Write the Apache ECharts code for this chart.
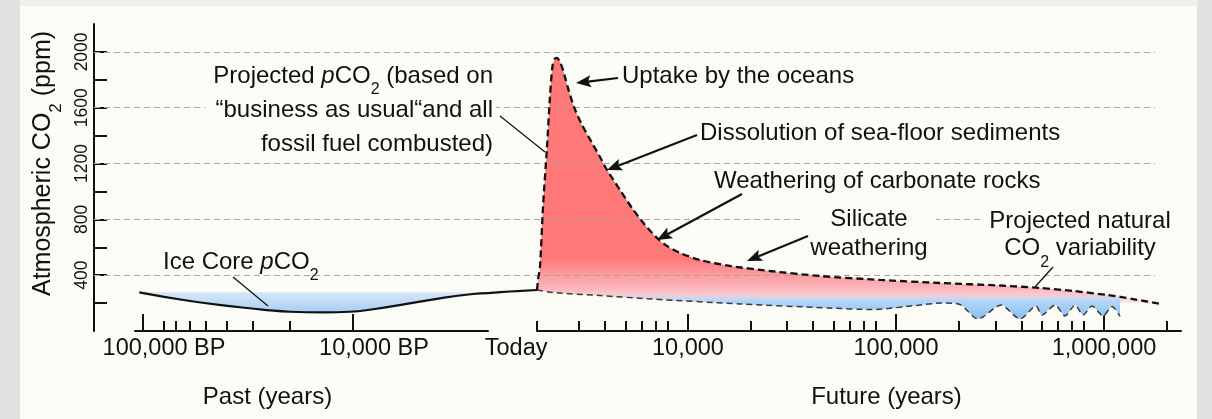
<!DOCTYPE html>
<html>
<head>
<meta charset="utf-8">
<script src="https://cdn.jsdelivr.net/npm/echarts@6.0.0/dist/echarts.min.js"></script>
<style>
html,body{margin:0;padding:0;background:#e1e1e1;}
#chart{width:1212px;height:419px;}
</style>
</head>
<body>
<div id="chart"></div>
<script>
// ---------------- data ----------------
const yTickValues = [200, 400, 600, 800, 1000, 1200, 1400, 1600, 1800, 2000];
const yLabelValues = [400, 800, 1200, 1600, 2000];
const gridLineValues = [400, 800, 1200, 1600, 2000];

const pastMajorTicks = [100000, 10000];
const pastMajorLabels = ['100,000 BP', '10,000 BP'];
const pastMinorTicks = [80000, 70000, 60000, 50000, 40000, 30000, 20000];

const futureLabelValues = [1882, 10000, 100000, 1000000];
const futureLabels = ['Today', '10,000', '100,000', '1,000,000'];
const futureMajorTicks = [10000, 100000, 1000000];
const futureMinorTicks = [1882, 3000, 4000, 5000, 6000, 7000, 8000,
  20000, 30000, 40000, 50000, 60000, 70000, 80000,
  200000, 300000, 400000, 500000, 600000, 700000, 800000, 2000000];

// Ice core pCO2 (years before present, ppm)
const iceCoreYearsBP = [104130, 59720, 34520, 25760, 19960, 13900, 10330, 8030, 5550, 3853, 2683, 2276, 1788, 1330];
const iceCoreCO2     = [277, 215, 170, 150, 138, 134, 138, 156, 194, 234, 265, 272, 283, 294];

// Projected pCO2 (years from now, ppm) and the lower edge of its red fill
const projectedYears = [1880, 1901, 1943, 2009, 2099, 2170, 2232, 2294, 2345, 2425, 2506, 2649, 2830,
  3093, 3455, 3776, 4080, 4711, 5379, 6213, 7096, 7925, 9152, 11420, 15920, 24790, 43120, 83770,
  162800, 316200, 492500, 709600, 1033700, 1378500, 1858700];
const projectedCO2 = [294, 366, 459, 889, 1312, 1677, 1900, 1953, 1957, 1928, 1871, 1742, 1606,
  1477, 1348, 1247, 1154, 1011, 882, 760, 667, 609, 559, 509, 466, 430, 394, 366,
  344, 326, 308, 287, 258, 229, 194];
const projectedFloorCO2 = [294, 290, 288, 286, 282, 280, 277, 275, 274, 272, 271, 269, 266,
  261, 257, 254, 251, 244, 238, 232, 227, 222, 215, 208, 197, 184, 168, 158,
  201, 204, 204, 204, 204, 202, 194];

// Projected natural CO2 variability (years from now, ppm)
const naturalYears = [1880, 2244, 3776, 6713, 17780, 47110, 76670, 124800, 166400, 203100, 247900, 319700,
  394600, 471100, 503300, 581400, 649400, 725400, 792600, 875700, 989000, 1093000, 1194000];
const naturalCO2 = [294, 276, 254, 229, 194, 165, 154, 183, 201, 190, 86, 186,
  86, 179, 115, 186, 108, 186, 115, 179, 108, 176, 104];

const fillCeilingCO2 = 277;

// ---------------- layout / style ----------------
const FONT = '"Liberation Sans", Arial, Helvetica, sans-serif';
const INK = '#111111';
const PANEL = '#fcfcf6';
const pastMin = 2276, pastMax = 109150, bridgeMin = 1330, futureMin = 1880, futureMax = 2344000;

// rows are [ppm, years]; encode maps years to x and ppm to y (so stacking happens on ppm)
const rows = (years, ppm) => years.map((t, i) => [ppm[i], t]);
const ENC = {x: 1, y: 0};
function nearestLabel(v, vals) {
  let best = 0, bd = Infinity;
  vals.forEach((x, i) => { const d = Math.abs(Math.log(v / x)); if (d < bd) { bd = d; best = i; } });
  return best;
}

const tickStyle = {color: INK, width: 2};

const chart = echarts.init(document.getElementById('chart'), null, {renderer: 'canvas'});

const common = {type: 'line', symbol: 'none', showSymbol: false, silent: true, animation: false,
  emphasis: {disabled: true}, clip: false, encode: ENC};

const icePastIdx = iceCoreYearsBP.map((t, i) => i).filter(i => iceCoreYearsBP[i] >= pastMin);
const iceBridgeIdx = iceCoreYearsBP.map((t, i) => i).filter(i => iceCoreYearsBP[i] <= pastMin);
const pick = (arr, idx) => idx.map(i => arr[i]);

const option = {
  animation: false,
  backgroundColor: '#e1e1e1',
  textStyle: {fontFamily: FONT},
  grid: [
    {left: 94, top: 24, width: 1061, height: 307},
    {left: 135, top: 24, width: 353, height: 307},
    {left: 537, top: 24, width: 644, height: 307},
    {left: 488, top: 24, width: 49, height: 307}
  ],
  xAxis: [
    {gridIndex: 0, type: 'value', min: 0, max: 1, show: false},
    {gridIndex: 1, type: 'log', min: pastMin, max: pastMax, inverse: true, position: 'bottom',
      axisLine: {show: true, lineStyle: {color: INK, width: 2}},
      axisTick: {show: true, inside: true, length: 17, lineStyle: tickStyle, customValues: pastMajorTicks},
      axisLabel: {show: true, customValues: pastMajorTicks, margin: 6, color: INK, fontSize: 23.5, fontFamily: FONT,
        formatter: v => '{p|' + pastMajorLabels[nearestLabel(v, pastMajorTicks)] + '}',
        rich: {p: {fontSize: 23.5, fontFamily: FONT, color: INK, padding: [0, 0, 0, 42]}}},
      splitLine: {show: false},
      name: 'Past (years)', nameLocation: 'middle', nameGap: 54,
      nameTextStyle: {color: INK, fontSize: 24, fontFamily: FONT, padding: [0, 88, 0, 0]}},
    {gridIndex: 1, type: 'log', min: pastMin, max: pastMax, inverse: true, position: 'bottom',
      axisLine: {show: false},
      axisTick: {show: true, inside: true, length: 10, lineStyle: tickStyle, customValues: pastMinorTicks},
      axisLabel: {show: false}, splitLine: {show: false}},
    {gridIndex: 2, type: 'log', min: futureMin, max: futureMax, position: 'bottom',
      axisLine: {show: true, lineStyle: {color: INK, width: 2}},
      axisTick: {show: true, inside: true, length: 17, lineStyle: tickStyle, customValues: futureMajorTicks},
      axisLabel: {show: true, customValues: futureLabelValues, margin: 6, color: INK, fontSize: 23.5, fontFamily: FONT,
        formatter: v => { const i = nearestLabel(v, futureLabelValues); return i === 0 ? '{t|' + futureLabels[0] + '}' : futureLabels[i]; },
        rich: {t: {fontSize: 23.5, fontFamily: FONT, color: INK, padding: [0, 42, 0, 0]}}},
      splitLine: {show: false},
      name: 'Future (years)', nameLocation: 'middle', nameGap: 54,
      nameTextStyle: {color: INK, fontSize: 24, fontFamily: FONT, padding: [0, 0, 0, 55]}},
    {gridIndex: 2, type: 'log', min: futureMin, max: futureMax, position: 'bottom',
      axisLine: {show: false},
      axisTick: {show: true, inside: true, length: 10, lineStyle: tickStyle, customValues: futureMinorTicks},
      axisLabel: {show: false}, splitLine: {show: false}},
    {gridIndex: 3, type: 'log', min: bridgeMin, max: pastMin, inverse: true, show: false}
  ],
  yAxis: [
    {gridIndex: 0, type: 'value', min: 0, max: 2200, position: 'left',
      axisLine: {show: true, lineStyle: {color: INK, width: 2}},
      axisTick: {show: true, inside: true, length: 13, lineStyle: tickStyle, customValues: yTickValues},
      axisLabel: {show: true, customValues: yLabelValues, rotate: 90, margin: 3, color: INK, fontSize: 17.5, fontFamily: FONT,
        formatter: v => String(v)},
      splitLine: {show: false},
      name: 'Atmospheric CO{s|2} (ppm)', nameLocation: 'middle', nameRotate: 90, nameGap: 32,
      nameTextStyle: {color: INK, fontSize: 25, fontFamily: FONT, lineHeight: 29, padding: [0, 0, 0, 28],
        rich: {s: {fontSize: 17, fontFamily: FONT, color: INK, padding: [26, 0, 0, 0], lineHeight: 29, verticalAlign: 'middle'}}}},
    {gridIndex: 1, type: 'value', min: 0, max: 2200, show: false},
    {gridIndex: 2, type: 'value', min: 0, max: 2200, show: false},
    {gridIndex: 3, type: 'value', min: 0, max: 2200, show: false}
  ],
  series: [
    Object.assign({}, common, {id: 'gridlines', xAxisIndex: 0, yAxisIndex: 0, data: [], z: 1, encode: undefined,
      markLine: {silent: true, animation: false, symbol: ['none', 'none'], label: {show: false},
        lineStyle: {color: '#a6a6a6', width: 1.2, type: [6, 4]},
        emphasis: {disabled: true},
        data: gridLineValues.map(v => ({yAxis: v}))}}),
    Object.assign({}, common, {id: 'iceBase', xAxisIndex: 1, yAxisIndex: 1, stack: 'ice', smooth: 0.5,
      lineStyle: {width: 0, opacity: 0}, data: rows(pick(iceCoreYearsBP, icePastIdx), pick(iceCoreCO2, icePastIdx)), z: 2}),
    Object.assign({}, common, {id: 'iceBand', xAxisIndex: 1, yAxisIndex: 1, stack: 'ice', smooth: 0.5,
      lineStyle: {width: 0, opacity: 0}, areaStyle: {color: '#c4def7', opacity: 1},
      data: rows(pick(iceCoreYearsBP, icePastIdx), pick(iceCoreCO2, icePastIdx).map(v => Math.max(0, fillCeilingCO2 - v))), z: 2}),
    Object.assign({}, common, {id: 'redFloor', xAxisIndex: 3, yAxisIndex: 2, stack: 'red', smooth: 0.25,
      lineStyle: {width: 0, opacity: 0}, data: rows(projectedYears, projectedFloorCO2), z: 2}),
    Object.assign({}, common, {id: 'redBand', xAxisIndex: 3, yAxisIndex: 2, stack: 'red', smooth: 0.25,
      lineStyle: {width: 0, opacity: 0}, areaStyle: {color: '#ff7878', opacity: 1},
      data: rows(projectedYears, projectedCO2.map((v, i) => Math.max(0, v - projectedFloorCO2[i]))), z: 2}),
    Object.assign({}, common, {id: 'blueBase', xAxisIndex: 3, yAxisIndex: 2, stack: 'blue', smooth: 0.25,
      lineStyle: {width: 0, opacity: 0}, data: rows(naturalYears, naturalCO2), z: 3}),
    Object.assign({}, common, {id: 'blueBand', xAxisIndex: 3, yAxisIndex: 2, stack: 'blue', smooth: 0.25,
      lineStyle: {width: 0, opacity: 0}, areaStyle: {color: '#b4d7f7', opacity: 1},
      data: rows(naturalYears, naturalCO2.map(v => Math.max(0, fillCeilingCO2 - v))), z: 3}),
    Object.assign({}, common, {id: 'iceLine', xAxisIndex: 1, yAxisIndex: 1, smooth: 0.5,
      lineStyle: {color: INK, width: 2.2}, data: rows(pick(iceCoreYearsBP, icePastIdx), pick(iceCoreCO2, icePastIdx)), z: 5}),
    Object.assign({}, common, {id: 'iceLineBridge', xAxisIndex: 5, yAxisIndex: 3, smooth: 0.3,
      lineStyle: {color: INK, width: 2.2}, data: rows(pick(iceCoreYearsBP, iceBridgeIdx), pick(iceCoreCO2, iceBridgeIdx)), z: 5}),
    Object.assign({}, common, {id: 'naturalLine', xAxisIndex: 3, yAxisIndex: 2, smooth: 0.25,
      lineStyle: {color: '#3a3a3a', width: 1.5, type: [6, 4]}, data: rows(naturalYears, naturalCO2), z: 5}),
    Object.assign({}, common, {id: 'projectedLine', xAxisIndex: 3, yAxisIndex: 2, smooth: 0.25,
      lineStyle: {color: INK, width: 2.3, type: [7, 4]}, data: rows(projectedYears, projectedCO2), z: 6})
  ],
  graphic: {elements: []}
};

// ---------------- annotations (layout) ----------------
function gRich(lh) {
  return {
    i: {fontStyle: 'italic', fontSize: 24, fontFamily: FONT, fill: INK, lineHeight: lh, verticalAlign: 'middle'},
    s: {fontSize: 16, fontFamily: FONT, fill: INK, padding: [28, 0, 0, 0], lineHeight: lh, verticalAlign: 'middle'}
  };
}
function label(text, x, y, align, lh, bg, pad) {
  const st = {text: text, x: x, y: y, fill: INK, fontSize: 24, fontFamily: FONT,
    align: align, verticalAlign: 'middle', textAlign: align, textVerticalAlign: 'middle',
    lineHeight: lh, rich: gRich(lh)};
  if (bg) { st.backgroundColor = PANEL; st.padding = pad || [0, 6, 0, 6]; }
  return {type: 'text', z: 100, silent: true, style: st};
}
function seg(x1, y1, x2, y2, w) {
  return {type: 'line', z: 100, silent: true, shape: {x1: x1, y1: y1, x2: x2, y2: y2}, style: {stroke: INK, lineWidth: w}};
}
function arrow(x1, y1, x2, y2) {
  const dx = x2 - x1, dy = y2 - y1, L = Math.hypot(dx, dy), ux = dx / L, uy = dy / L;
  const hl = 15, hw = 6;
  const bx = x2 - ux * hl, by = y2 - uy * hl;
  const nx = x2 - ux * hl * 0.8, ny = y2 - uy * hl * 0.8;
  return [seg(x1, y1, nx, ny, 2.2),
    {type: 'polygon', z: 100, silent: true,
      shape: {points: [[x2, y2], [bx - uy * hw, by + ux * hw], [nx, ny], [bx + uy * hw, by - ux * hw]]},
      style: {fill: INK}}];
}

const els = [
  {type: 'rect', z: -10, silent: true, shape: {x: 20, y: 0, width: 1178, height: 6}, style: {fill: '#efefef'}},
  {type: 'rect', z: -10, silent: true, shape: {x: 20, y: 6, width: 1177, height: 413}, style: {fill: PANEL}},
  label('Projected {i|p}CO{s|2} (based on\n\u201cbusiness as usual\u201cand all\nfossil fuel combusted)', 496, 110, 'right', 34, true, [0, 3, 0, 8]),
  label('Uptake by the oceans', 622, 76, 'left', 28, false),
  label('Dissolution of sea-floor sediments', 700, 133, 'left', 28, false),
  label('Weathering of carbonate rocks', 714, 181, 'left', 28, false),
  label('Silicate\nweathering', 869, 234, 'center', 29, true, [0, 8, 0, 8]),
  label('Projected natural\nCO{s|2} variability', 1080, 235, 'center', 27, true, [0, 8, 0, 8]),
  label('Ice Core {i|p}CO{s|2}', 163, 262, 'left', 28, false),
  seg(500, 116, 545, 152, 1.3),
  seg(233, 277, 268, 306, 1.3),
  seg(1053, 267, 1035, 287, 1.3)
].concat(arrow(618, 78, 576, 83), arrow(697, 135, 607, 170), arrow(742, 194, 657, 240), arrow(808, 236, 747, 261));
option.graphic.elements = els;

chart.setOption(option);

// gradients placed through the value axis scale
const yPx = v => chart.convertToPixel({yAxisIndex: 2}, v);
const yPxPast = v => chart.convertToPixel({yAxisIndex: 1}, v);
const G = echarts.graphic.LinearGradient;
chart.setOption({
  series: [
    {id: 'redBand', areaStyle: {opacity: 1, color: new G(0, yPx(520), 0, yPx(195), [
      {offset: 0, color: '#ff7878'},
      {offset: (520 - 300) / (520 - 195), color: '#fbb9c0'},
      {offset: 1, color: '#fde5e8'}], true)}},
    {id: 'blueBand', areaStyle: {opacity: 1, color: new G(0, yPx(265), 0, yPx(90), [
      {offset: 0, color: 'rgba(178,214,248,0)'},
      {offset: (265 - 215) / (265 - 90), color: 'rgba(178,214,248,1)'},
      {offset: 1, color: '#8cc0f1'}], true)}},
    {id: 'iceBand', areaStyle: {opacity: 1, color: new G(0, yPxPast(277), 0, yPxPast(134), [
      {offset: 0, color: '#d6e8f9'},
      {offset: 1, color: '#a7cdf4'}], true)}}
  ]
});
</script>
</body>
</html>
